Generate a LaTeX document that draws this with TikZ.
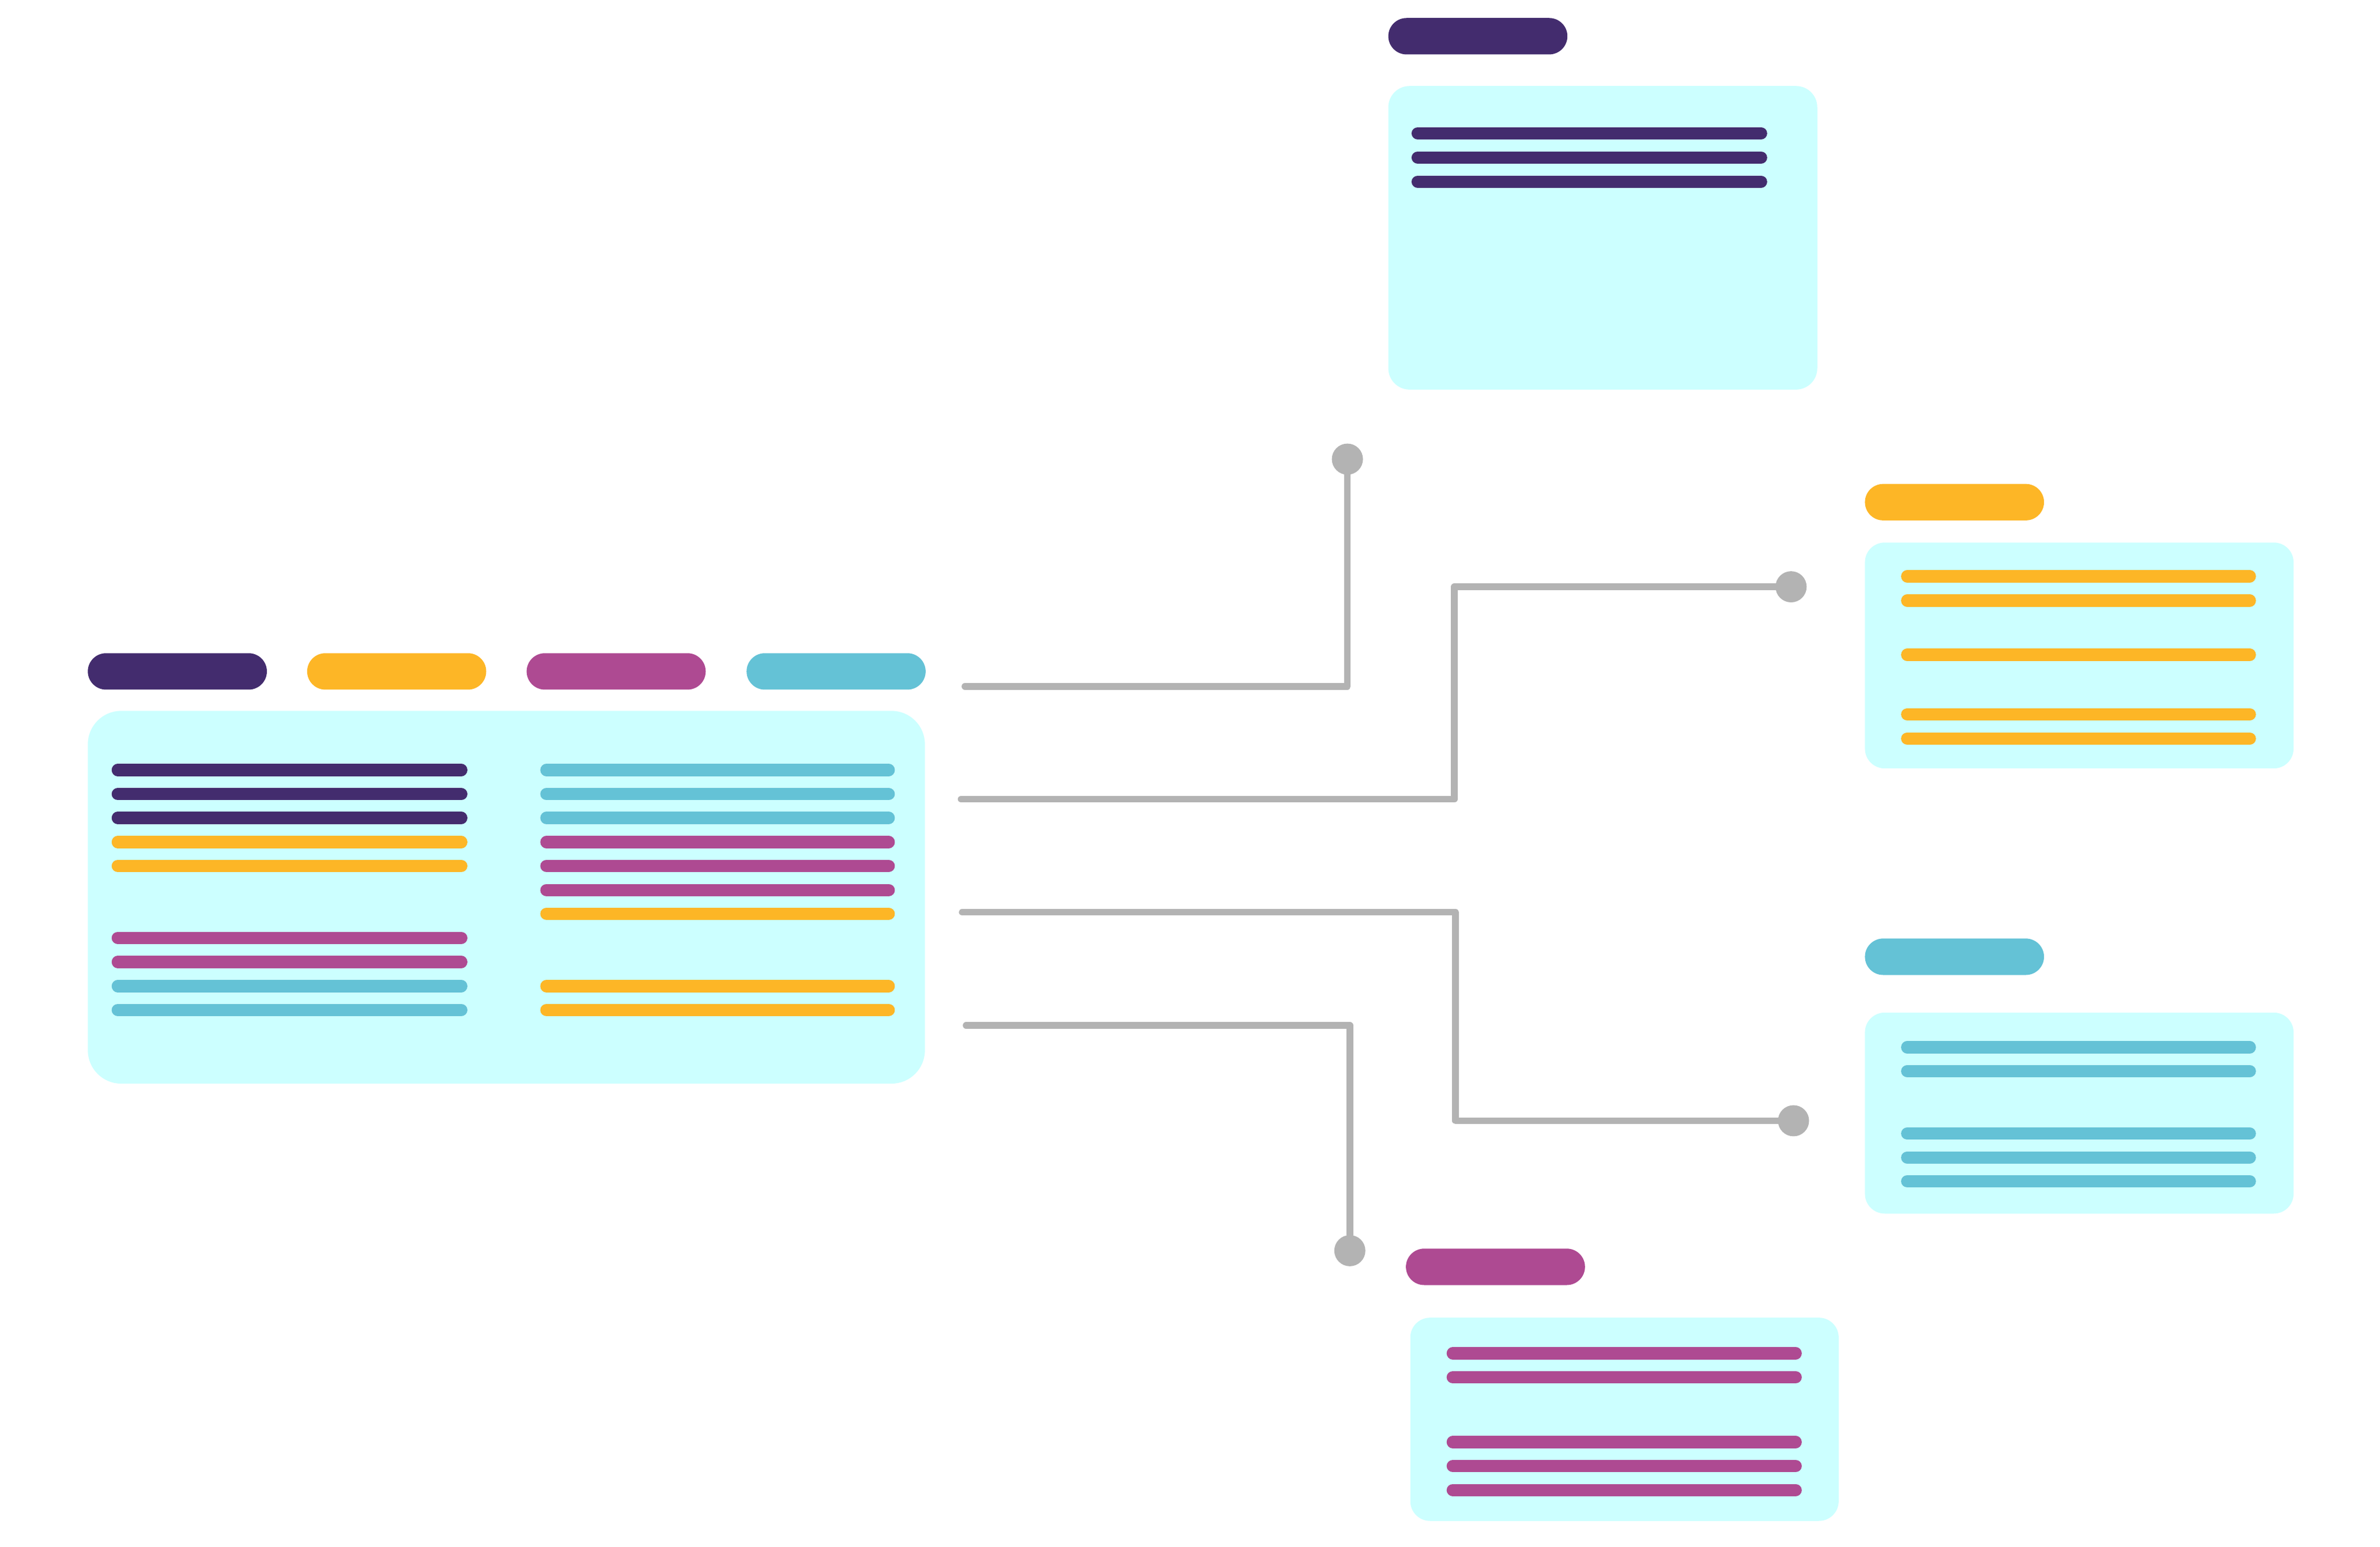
\documentclass[tikz,border=0pt]{standalone}

\definecolor{plum}{HTML}{432C6E}
\definecolor{sun}{HTML}{FDB626}
\definecolor{rose}{HTML}{AE4A92}
\definecolor{sky}{HTML}{64C2D6}
\definecolor{cardfill}{HTML}{CCFFFF}
\definecolor{wire}{HTML}{B3B3B3}

\tikzset{
    card/.style n args={3}{fill=cardfill, rounded corners=#3, inner sep=0pt,
        anchor=north west, minimum width=#1*0.02cm, minimum height=#2*0.02cm},
    pill/.style={fill=#1, rounded corners=0.24cm, inner sep=0pt,
        anchor=north west, minimum width=2.36cm, minimum height=0.48cm},
    bar/.style={draw=#1, line width=4.6pt, line cap=round},
    wirepath/.style={draw=wire, line width=2.5pt, line cap=round, line join=round},
    dot/.style={circle, fill=wire, inner sep=0pt, minimum size=0.41cm},
}

\begin{document}
\begin{tikzpicture}[x=0.02cm, y=-0.02cm]
  \useasboundingbox (0,0) rectangle (1568,1019);

  % main card with its four keys
  \node[card={551.5}{245.6}{0.44cm}] (main) at (57.5,468) {};
  \node[pill=plum] (kplum) at (57.5,430) {};
  \node[pill=sun]  (ksun)  at (202,430) {};
  \node[pill=rose] (krose) at (346.6,430) {};
  \node[pill=sky]  (ksky)  at (491.5,430) {};
  \foreach \y/\c in {507.3/plum, 523.2/plum, 538.9/plum, 554.8/sun, 570.5/sun,
                     617.9/rose, 633.8/rose, 649.7/sky, 665.4/sky}
    \draw[bar=\c] (77.6,\y) -- (303.9,\y);
  \foreach \y/\c in {507.3/sky, 523.2/sky, 538.9/sky, 554.8/rose, 570.5/rose,
                     586.4/rose, 602/sun, 649.7/sun, 665.4/sun}
    \draw[bar=\c] (360,\y) -- (585.5,\y);

  % the four detail cards
  \node[card={282.6}{200}{0.28cm}] (cplum) at (914.3,56.3) {};
  \node[pill=plum] (tplum) at (914.3,11.5) {};
  \foreach \y in {87.8, 103.8, 119.7}
    \draw[bar=plum] (934,\y) -- (1160.2,\y);

  \node[card={282.4}{148.8}{0.26cm}] (csun) at (1228.3,357.1) {};
  \node[pill=sun] (tsun) at (1228.3,318.5) {};
  \foreach \y in {379.7, 395.7, 431.4, 470.6, 486.6}
    \draw[bar=sun] (1256.5,\y) -- (1482.2,\y);

  \node[card={282.4}{132.4}{0.26cm}] (csky) at (1228.3,666.8) {};
  \node[pill=sky] (tsky) at (1228.3,618) {};
  \foreach \y in {690, 705.7, 746.9, 762.6, 778.3}
    \draw[bar=sky] (1256.5,\y) -- (1482.2,\y);

  \node[card={282.2}{133.9}{0.26cm}] (crose) at (928.8,867.8) {};
  \node[pill=rose] (trose) at (925.9,822.3) {};
  \foreach \y in {891.6, 907.4, 950.1, 965.9, 981.7}
    \draw[bar=rose] (957.1,\y) -- (1183,\y);

  % connectors
  \node[dot] (d1) at (887.7,302.5) {};
  \node[dot] (d2) at (1180,386.6) {};
  \node[dot] (d3) at (1181.6,738.4) {};
  \node[dot] (d4) at (889.3,824) {};
  \coordinate (s1) at (635.7,452.2);
  \coordinate (s2) at (633.2,526.5);
  \coordinate (s3) at (633.9,601);
  \coordinate (s4) at (636.5,675.6);

  \draw[wirepath] (s1) -| (d1);
  \draw[wirepath] (s2) -- ++(325,0) |- (d2);
  \draw[wirepath] (s3) -- ++(325,0) |- (d3);
  \draw[wirepath] (s4) -| (d4);
\end{tikzpicture}
\end{document}
